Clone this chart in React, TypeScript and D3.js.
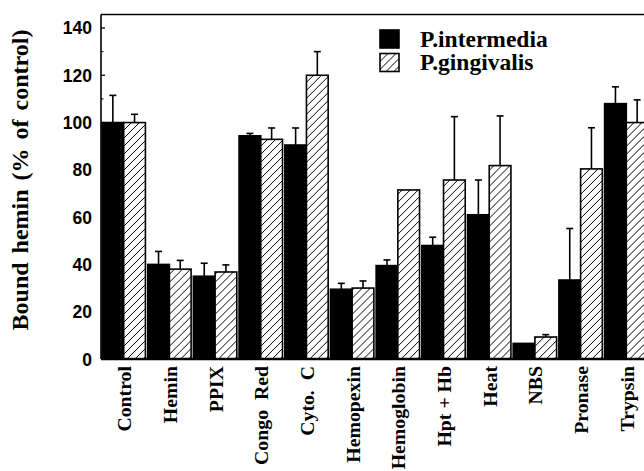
import React from "react";
import * as d3 from "d3";

const categories = ["Control", "Hemin", "PPIX", "Congo  Red", "Cyto.  C", "Hemopexin", "Hemoglobin", "Hpt + Hb", "Heat", "NBS", "Pronase", "Trypsin"];
const seriesNames = ["P.intermedia", "P.gingivalis"];
const intermedia = [100, 40, 35, 94.4, 90.5, 29.5, 39.5, 48, 61, 6.6, 33.4, 108];
const intermediaSEM = [11.5, 5.5, 5.5, 1, 7.2, 2.5, 2.4, 3.5, 14.7, 0, 21.8, 7.1];
const gingivalis = [100, 38, 36.8, 92.9, 120, 30, 71.5, 75.7, 81.8, 9.3, 80.4, 100];
const gingivalisSEM = [3.5, 3.7, 3, 4.8, 10, 3, 0, 26.8, 21, 1, 17.4, 9.6];
const yTicks = [0, 20, 40, 60, 80, 100, 120, 140];
const yMinorTicks = [10, 30, 50, 70, 90, 110, 130];

const W = 644;
const H = 471;
const serif = "'Liberation Serif', 'Times New Roman', serif";
const sans = "'Liberation Sans', Arial, sans-serif";

export default function App() {
  const y = d3.scaleLinear().domain([0, 145.7]).range([359, 14.5]);
  const x = d3.scaleBand<string>().domain(categories).range([102, 648]).paddingInner(0.05).paddingOuter(0);
  const xs = d3.scaleBand<number>().domain([0, 1]).range([0, x.bandwidth()]);
  const left = 101;
  const series = [
    { vals: intermedia, sem: intermediaSEM, fill: "#000" },
    { vals: gingivalis, sem: gingivalisSEM, fill: "url(#hatch)" },
  ];
  return (
    <svg width={W} height={H} style={{ position: "absolute", left: 0, top: 0, background: "#fff" }}>
      <defs>
        <pattern id="hatch" patternUnits="userSpaceOnUse" width={8} height={8}>
          <rect width={8} height={8} fill="#fff" />
          <path d="M-2,2 L2,-2 M0,8 L8,0 M6,10 L10,6" stroke="#000" strokeWidth={1} />
        </pattern>
      </defs>
      {/* bars */}
      {categories.map((c, i) => (
        <g key={c} transform={`translate(${x(c)},0)`}>
          {series.map((s, k) => {
            const v = s.vals[i];
            const bx = xs(k)!;
            const bw = xs.bandwidth();
            const top = y(v);
            const e = s.sem[i];
            const cx = bx + bw / 2;
            return (
              <g key={k}>
                {e > 0 && (
                  <g stroke="#000" strokeWidth={1.6}>
                    <line x1={cx} x2={cx} y1={top} y2={y(v + e)} />
                    <line x1={cx - 3.5} x2={cx + 3.5} y1={y(v + e)} y2={y(v + e)} />
                  </g>
                )}
                <rect x={bx} y={top} width={bw} height={y(0) - top} fill={s.fill} stroke="#000" strokeWidth={1.6} />
              </g>
            );
          })}
        </g>
      ))}
      {/* frame */}
      <line x1={left} x2={W} y1={14.5} y2={14.5} stroke="#000" strokeWidth={1.6} />
      <line x1={left} x2={left} y1={14.5} y2={359} stroke="#000" strokeWidth={1.6} />
      <line x1={left} x2={W} y1={359} y2={359} stroke="#000" strokeWidth={2.6} />
      {yTicks.map((t) => (
        <g key={t}>
          <line x1={left} x2={left + 4} y1={y(t)} y2={y(t)} stroke="#000" strokeWidth={1.3} />
          <text x={92} y={y(t) + 6.5} textAnchor="end" fontFamily={sans} fontWeight="bold" fontSize={17.5}>
            {t}
          </text>
        </g>
      ))}
      {yMinorTicks.map((t) => (
        <line key={t} x1={left} x2={left + 2.5} y1={y(t)} y2={y(t)} stroke="#000" strokeWidth={1} />
      ))}
      {/* x labels */}
      {categories.map((c) => (
        <text
          key={c}
          transform={`translate(${x(c)! + x.bandwidth() / 2 + 7.5},366) rotate(-90)`}
          textAnchor="end"
          fontFamily={serif}
          fontWeight="bold"
          fontSize={19.8}
          style={{ whiteSpace: "pre" }}
        >
          {c}
        </text>
      ))}
      {/* y label */}
      <text
        transform="translate(28,180) rotate(-90)"
        textAnchor="middle"
        fontFamily={serif}
        fontWeight="bold"
        fontSize={24}
        wordSpacing={3}
      >
        Bound hemin (% of control)
      </text>
      {/* legend */}
      {seriesNames.map((n, k) => (
        <g key={n} transform={`translate(380,${30 + k * 23.5})`}>
          <rect x={0} y={0} width={19} height={18} fill={series[k].fill} stroke="#000" strokeWidth={1.6} />
          <text x={40} y={16.5} fontFamily={serif} fontWeight="bold" fontSize={23.5}>
            {n}
          </text>
        </g>
      ))}
    </svg>
  );
}
